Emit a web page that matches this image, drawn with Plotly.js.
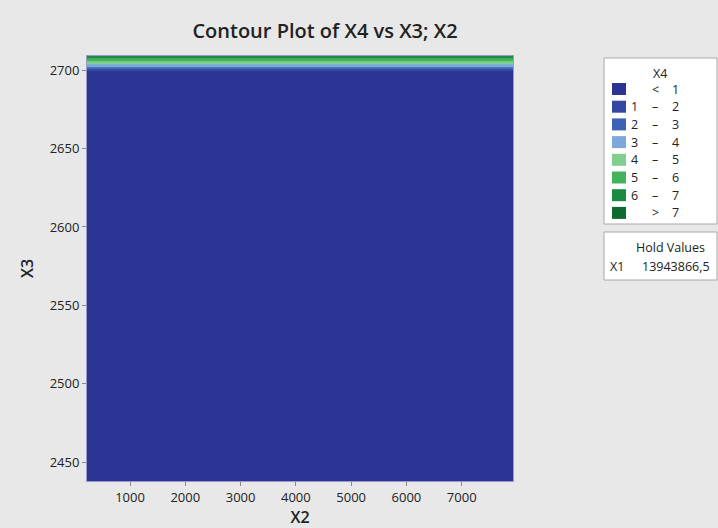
<!DOCTYPE html>
<html>
<head>
<meta charset="utf-8">
<script src="https://cdn.plot.ly/plotly-3.0.1.min.js"></script>
<style>
html,body{margin:0;padding:0;background:#e8e8e8;}
#chart{width:718px;height:528px;}
</style>
</head>
<body>
<div id="chart"></div>
<script>
// Data
const x2Grid = [222, 7928];
const x3Grid = [2438, 2600, 2690, 2698, 2699.2, 2700.5, 2701.8, 2703.7, 2705.6, 2707.5, 2709];
const x4ByX3 = [-30, -10, -1.5, 0.3, 1, 2, 3, 4, 5, 6, 6.9];
const bandLabels = [["", "<", "1"], ["1", "–", "2"], ["2", "–", "3"], ["3", "–", "4"], ["4", "–", "5"], ["5", "–", "6"], ["6", "–", "7"], ["", ">", "7"]];
const bandColors = ["#2b3393", "#3448a2", "#3c63b6", "#7ca8dc", "#80cf90", "#45b35b", "#1c8a40", "#0f6a31"];
const xTicks = [1000, 2000, 3000, 4000, 5000, 6000, 7000];
const yTicks = [2450, 2500, 2550, 2600, 2650, 2700];
const holdName = "X1";
const holdValue = "13943866,5";

const z = x3Grid.map((_, i) => x2Grid.map(() => x4ByX3[i]));
const n = bandColors.length - 1;
const colorscale = bandColors.map((c, i) => [i / n, c]);

const trace = {
  type: 'contour',
  x: x2Grid, y: x3Grid, z: z,
  autocontour: false,
  contours: {start: 1, end: 7, size: 1, coloring: 'fill', showlines: false},
  line: {width: 0},
  colorscale: colorscale,
  showscale: false,
  hoverinfo: 'none'
};

const font = "'Open Sans', 'Noto Sans', sans-serif";
const shapes = [];
const annotations = [];
const W = 718, H = 528, L = 87, R = 205, T = 56, B = 47;
const pw = W - L - R, ph = H - T - B;
function px(x) { return (x - L) / pw; }
function py(y) { return (H - B - y) / ph; }
function label(x, y, text, anchor, size, weight) {
  annotations.push({xref: 'paper', yref: 'paper', x: px(x), y: py(y), text: text, showarrow: false,
    xanchor: anchor, yanchor: 'middle', font: {family: font, size: size || 12.5, color: '#222', weight: weight || 400}});
}

shapes.push({type: 'rect', xref: 'paper', yref: 'paper', x0: px(604), x1: px(717), y0: py(58), y1: py(224), fillcolor: '#ffffff', line: {color: '#a8a8a8', width: 1}, layer: 'below'});
shapes.push({type: 'rect', xref: 'paper', yref: 'paper', x0: px(604), x1: px(717), y0: py(232), y1: py(280), fillcolor: '#ffffff', line: {color: '#a8a8a8', width: 1}, layer: 'below'});

label(660, 73, 'X4', 'center');
bandColors.forEach((c, i) => {
  const yc = 89 + i * 17.7;
  shapes.push({type: 'rect', xref: 'paper', yref: 'paper', x0: px(612), x1: px(626), y0: py(yc - 6), y1: py(yc + 6), fillcolor: c, line: {width: 0}});
  const [lo, mid, hi] = bandLabels[i];
  if (lo) label(634, yc, lo, 'center');
  label(655, yc, mid, 'center');
  label(675, yc, hi, 'center');
});
label(670, 247, 'Hold Values', 'center');
label(608, 266, holdName, 'left');
label(712, 266, holdValue, 'right');

const layout = {
  width: W, height: H,
  paper_bgcolor: '#e8e8e8', plot_bgcolor: '#e8e8e8',
  margin: {l: L, r: R, t: T, b: B},
  title: {text: 'Contour Plot of X4 vs X3; X2', x: 325 / W, xanchor: 'center', y: 1 - 31 / H, yanchor: 'middle', font: {family: font, size: 20, color: '#222', weight: 600}},
  xaxis: {
    range: [x2Grid[0], x2Grid[1]], tickvals: xTicks, ticktext: xTicks.map(String),
    ticks: 'outside', ticklen: 4, tickcolor: '#888', showgrid: false, zeroline: false,
    showline: true, linecolor: '#9a9ac8', mirror: true,
    tickfont: {family: font, size: 13, color: '#222'},
    title: {text: 'X2', font: {family: font, size: 16, color: '#222', weight: 600}, standoff: 17}
  },
  yaxis: {
    range: [x3Grid[0], x3Grid[x3Grid.length - 1]], tickvals: yTicks, ticktext: yTicks.map(String),
    ticks: 'outside', ticklen: 4, tickcolor: '#888', showgrid: false, zeroline: false,
    showline: true, linecolor: '#9a9ac8', mirror: true,
    tickfont: {family: font, size: 13, color: '#222'},
    title: {text: 'X3', font: {family: font, size: 16, color: '#222', weight: 600}, standoff: 12}
  },
  shapes: shapes,
  annotations: annotations,
  showlegend: false
};

Plotly.newPlot('chart', [trace], layout, {displayModeBar: false, staticPlot: true});
</script>
</body>
</html>
